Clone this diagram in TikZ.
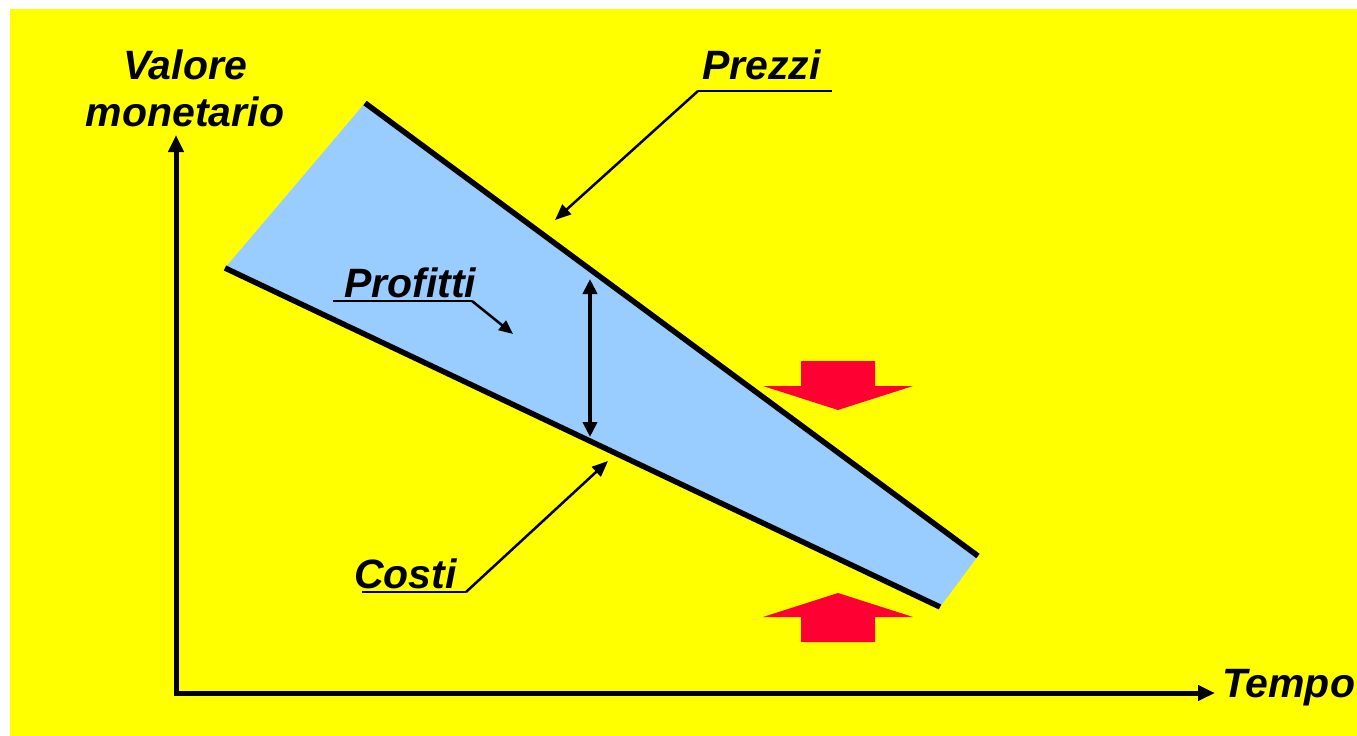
\documentclass[tikz,border=0pt]{standalone}
\usepackage{fontspec}
\setmainfont{Liberation Sans}
\usetikzlibrary{arrows.meta}

\begin{document}
\begin{tikzpicture}[x=1pt, y=-1pt]
    % --- GLOBAL DEFINITIONS ---
    \definecolor{bgyellow}{RGB}{255, 255, 0}
    \definecolor{bandblue}{RGB}{153, 204, 255}
    \definecolor{pushred}{RGB}{255, 0, 51}

    \tikzset{
        axisline/.style={line width=5pt, -{Triangle[length=17pt, width=15pt]}},
        edgeline/.style={line width=5.5pt, line cap=butt},
        leaderline/.style={line width=2.5pt, -{Triangle[length=16pt, width=13pt]}},
        spanarrow/.style={line width=4pt, {Triangle[length=15pt, width=14pt]}-{Triangle[length=15pt, width=14pt]}},
        labeltext/.style={font=\fontsize{41}{47}\selectfont\bfseries\itshape, inner sep=0pt}
    }

    % Background
    \useasboundingbox (0,0) rectangle (1357,736);
    \fill[bgyellow] (10,9) rectangle (1357,736);

    % Profit band between prices and costs
    \coordinate (prezziA) at (365,103);
    \coordinate (prezziB) at (978,556);
    \coordinate (costiA) at (225,268);
    \coordinate (costiB) at (940,607);
    \fill[bandblue] (prezziA) -- (prezziB) -- (costiB) -- (costiA) -- cycle;
    \draw[edgeline] (prezziA) -- (prezziB);
    \draw[edgeline] (costiA) -- (costiB);

    % Axes
    \coordinate (origin) at (176,693);
    \coordinate (ytip) at (176,135);
    \coordinate (xtip) at (1215,693);
    \draw[axisline] ([yshift=2.5pt]origin) -- (ytip);
    \draw[axisline] ([xshift=-2.5pt]origin) -- (xtip);
    \node[labeltext, align=center, anchor=base] (valore) at (185,126) {Valore\\monetario};
    \node[labeltext, anchor=base west] (tempo) at (1222,697) {Tempo};

    % Profit margin
    \coordinate (spantop) at (590,279);
    \coordinate (spanbot) at (590,437);
    \draw[spanarrow] (spantop) -- (spanbot);

    % Labels with leaders
    \node[labeltext, anchor=base west] (prezzi) at (702,79) {Prezzi};
    \coordinate (prezziL) at (698,91);
    \coordinate (prezziR) at (832,91);
    \coordinate (prezziT) at (555,220);
    \draw[line width=2.5pt] (prezziL) -- (prezziR);
    \draw[leaderline] (prezziL) -- (prezziT);

    \node[labeltext, anchor=base west] (profitti) at (344,297) {Profitti};
    \coordinate (profittiL) at (333,301);
    \coordinate (profittiR) at (472,301);
    \coordinate (profittiT) at (513,334);
    \draw[line width=2.5pt] (profittiL) -- (profittiR);
    \draw[leaderline, -{Triangle[length=14pt, width=12pt]}] (profittiR) -- (profittiT);

    \node[labeltext, anchor=base west] (costi) at (354,588) {Costi};
    \coordinate (costiL) at (362,592);
    \coordinate (costiR) at (466,592);
    \coordinate (costiT) at (608,461);
    \draw[line width=2.5pt] (costiL) -- (costiR);
    \draw[leaderline] (costiR) -- (costiT);

    % Squeeze arrows
    \foreach \ypos/\dir in {361/1, 642/-1}
        \fill[pushred, shift={(838,\ypos)}, yscale=\dir]
            (-37,0) -- (37,0) -- (37,25) -- (75,25) -- (0,49) -- (-75,25) -- (-37,25) -- cycle;
\end{tikzpicture}
\end{document}
